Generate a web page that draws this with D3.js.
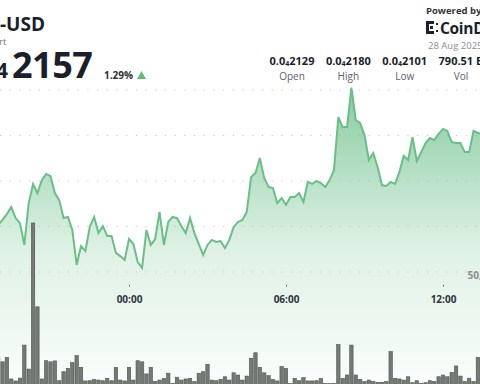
<!DOCTYPE html>
<html>
<head>
<meta charset="utf-8">
<script src="https://cdn.jsdelivr.net/npm/d3@7"></script>
<style>
  html, body { margin: 0; padding: 0; background: #fff; }
  svg { display: block; font-family: "Open Sans", "Noto Sans", sans-serif; }
</style>
</head>
<body>
<svg id="chart" width="480" height="384"></svg>
<script>
// ---- data (price in units of 0.0₄xxxx, i.e. 1e-8 USD; volume in billions) ----
const startTime = new Date(2025, 7, 27, 19, 0); // first 10-minute point
const stepMinutes = 10;
const prices = [
  2120.7, 2122.9, 2125.5, 2128.6, 2123.7, 2121.5, 2111.9, 2130.3, 2138.7, 2134.7,
  2140.4, 2143.1, 2142.2, 2134.7, 2131.6, 2123.7, 2124.2, 2118.5, 2103.1, 2111.4,
  2109.2, 2119.8, 2124.2, 2117.1, 2120.2, 2115.8, 2115.8, 2108.4, 2107.0, 2105.3,
  2114.5, 2112.3, 2104.4, 2101.8, 2118.5, 2111.9, 2114.5, 2126.4, 2111.9, 2122.0,
  2124.2, 2123.7, 2120.2, 2117.1, 2123.7, 2117.1, 2112.3, 2107.5, 2111.9, 2114.1,
  2113.2, 2113.6, 2110.5, 2114.1, 2119.8, 2122.0, 2122.9, 2126.4, 2141.8, 2143.5,
  2150.1, 2141.3, 2137.4, 2136.9, 2130.3, 2132.5, 2129.5, 2133.0, 2133.0, 2134.7,
  2130.8, 2139.6, 2138.7, 2140.0, 2139.1, 2137.4, 2140.4, 2144.8, 2168.1, 2163.7,
  2163.7, 2181.0, 2166.8, 2165.5, 2160.2, 2149.2, 2152.3, 2146.2, 2138.2, 2137.8,
  2139.6, 2138.7, 2144.0, 2151.0, 2149.2, 2159.3, 2148.8, 2152.7, 2156.7, 2158.9,
  2158.0, 2160.7, 2162.9, 2162.0, 2157.1, 2156.7, 2156.7, 2152.7, 2152.7, 2162.0,
  2161.1, 2160.7
];
const volumes = [
  12.9, 11.0, 13.0, 3.2, 2.3, 3.6, 18.6, 7.7, 74.1, 36.0,
  3.2, 11.5, 11.0, 11.4, 2.4, 6.5, 8.0, 10.6, 13.8, 8.5,
  2.3, 2.4, 2.9, 2.7, 2.4, 3.5, 2.4, 8.5, 2.7, 2.3,
  8.5, 2.7, 11.5, 11.0, 5.5, 8.5, 2.0, 2.7, 3.5, 5.8,
  1.2, 4.0, 2.7, 3.2, 3.5, 2.0, 5.8, 6.5, 9.9, 2.7,
  2.4, 3.0, 4.2, 2.7, 6.0, 5.0, 2.7, 4.5, 12.6, 15.1,
  8.5, 6.0, 4.7, 3.0, 2.3, 8.8, 8.0, 1.1, 3.5, 2.4,
  3.8, 2.3, 2.3, 2.4, 3.5, 1.2, 1.1, 1.2, 18.8, 3.5,
  5.0, 18.6, 5.0, 3.0, 2.0, 2.7, 2.0, 1.7, 1.7, 2.0,
  15.6, 3.5, 3.2, 2.7, 4.2, 1.5, 2.4, 1.2, 1.5, 2.4,
  2.0, 4.2, 5.0, 4.2, 6.2, 9.1, 4.5, 2.0, 3.5, 2.0,
  13.0, 12.1
];
const priceTicks = [2100, 2120, 2140, 2160, 2180];
const volumeTicks = [50];
const statLabels = ["Open", "High", "Low", "Vol"];
const statDigits = ["2129", "2180", "2101", null];
const volText = "790.51 B";
const title = "-USD";
const subtitle = "rt";
const lastDigits = "2157";
const changePct = "1.29%";
const poweredBy = "Powered by";
const brand = "CoinDesk";
const dateText = "28 Aug 2025";

const data = prices.map((p, i) => ({
  t: new Date(startTime.getTime() + i * stepMinutes * 60000),
  p, v: volumes[i]
}));

// ---- scales ----
const svg = d3.select("#chart");
const x = d3.scaleTime()
  .domain([new Date(2025, 7, 28, 0, 0), new Date(2025, 7, 28, 12, 0)])
  .range([129, 443]);
const y = d3.scaleLinear().domain([2100, 2180]).range([272, 90]);
const yv = d3.scaleLinear().domain([0, 50]).range([386, 276]);
const barW = 3.4;

// ---- gradient ----
const defs = svg.append("defs");
const grad = defs.append("linearGradient")
  .attr("id", "areaGrad").attr("gradientUnits", "userSpaceOnUse")
  .attr("x1", 0).attr("x2", 0).attr("y1", 85).attr("y2", 384);
grad.append("stop").attr("offset", 0).attr("stop-color", "#6cc08b").attr("stop-opacity", 0.82);
grad.append("stop").attr("offset", 0.55).attr("stop-color", "#6cc08b").attr("stop-opacity", 0.22);
grad.append("stop").attr("offset", 1).attr("stop-color", "#6cc08b").attr("stop-opacity", 0.03);

// ---- header ----
const dark = "#1b1e2b";
svg.append("text").attr("x", 0).attr("y", 31).attr("font-size", 19).attr("font-weight", 700)
  .attr("fill", dark).text(title);
svg.append("text").attr("x", -1).attr("y", 44.5).attr("font-size", 9.5)
  .attr("fill", "#6b6f78").text(subtitle);
svg.append("text").attr("x", -4).attr("y", 78).attr("font-size", 21).attr("font-weight", 700)
  .attr("fill", dark).text("4");
svg.append("text").attr("x", 12).attr("y", 78).attr("font-size", 36).attr("font-weight", 700)
  .attr("fill", dark).attr("letter-spacing", -0.5).text(lastDigits);
svg.append("text").attr("x", 104).attr("y", 78.5).attr("font-size", 10).attr("font-weight", 700)
  .attr("fill", "#2b2e38").text(changePct);
svg.append("path").attr("d", "M137,79 L146,79 L141.5,71 Z").attr("fill", "#5fbf74");

svg.append("text").attr("x", 426).attr("y", 14).attr("font-size", 9.5).attr("font-weight", 700)
  .attr("fill", "#33363d").text(poweredBy);
// logo icon
const logo = svg.append("g").attr("fill", "#1b1e2b");
logo.append("rect").attr("x", 426).attr("y", 21).attr("width", 3).attr("height", 13);
logo.append("rect").attr("x", 426).attr("y", 21).attr("width", 8).attr("height", 3);
logo.append("rect").attr("x", 426).attr("y", 31).attr("width", 8).attr("height", 3);
logo.append("rect").attr("x", 430).attr("y", 26).attr("width", 3).attr("height", 3);
logo.append("rect").attr("x", 436).attr("y", 23).attr("width", 2).attr("height", 2);
logo.append("rect").attr("x", 436).attr("y", 30).attr("width", 2).attr("height", 2);
svg.append("text").attr("x", 440).attr("y", 34).attr("font-size", 15.5).attr("font-weight", 700)
  .attr("letter-spacing", -0.3).attr("fill", "#1b1e2b").text(brand);
svg.append("text").attr("x", 428).attr("y", 49).attr("font-size", 9.5)
  .attr("fill", "#8a8d94").text(dateText);

// stats row
const statX = d3.scalePoint().domain(statLabels).range([292, 461]);
statLabels.forEach((lab, i) => {
  const cx = statX(lab);
  const t = svg.append("text").attr("x", cx).attr("y", 65).attr("text-anchor", "middle")
    .attr("font-size", 11).attr("font-weight", 700).attr("fill", dark);
  if (statDigits[i]) {
    t.append("tspan").text("0.0");
    t.append("tspan").attr("font-size", 7).attr("dy", 1).text("4");
    t.append("tspan").attr("dy", -1).text(statDigits[i]);
  } else {
    t.text(volText);
  }
  svg.append("text").attr("x", cx).attr("y", 79.5).attr("text-anchor", "middle")
    .attr("font-size", 10).attr("fill", "#5d606a").text(lab);
});

// ---- gridlines ----
svg.append("g").selectAll("line").data(priceTicks).join("line")
  .attr("x1", 0).attr("x2", 480)
  .attr("y1", d => y(d)).attr("y2", d => y(d))
  .attr("stroke", "#c9c9c9").attr("stroke-width", 1.2)
  .attr("stroke-dasharray", "1.2,8.5");

// ---- area + volume + line ----
const area = d3.area().x(d => x(d.t)).y0(384).y1(d => y(d.p));
svg.append("path").datum(data).attr("d", area).attr("fill", "url(#areaGrad)");

svg.append("g").selectAll("rect").data(data).join("rect")
  .attr("x", d => x(d.t) - barW / 2)
  .attr("width", barW)
  .attr("y", d => yv(d.v))
  .attr("height", d => yv(0) - yv(d.v))
  .attr("fill", "#747973").attr("stroke", "#4f544f").attr("stroke-width", 0.6);

const line = d3.line().x(d => x(d.t)).y(d => y(d.p));
svg.append("path").datum(data).attr("d", line)
  .attr("fill", "none").attr("stroke", "#6abf86").attr("stroke-width", 2)
  .attr("stroke-linejoin", "miter");

// volume axis label
svg.append("g").selectAll("text").data(volumeTicks).join("text")
  .attr("x", 467.5).attr("y", d => yv(d) + 3)
  .attr("font-size", 10).attr("font-weight", 700).attr("fill", "#8c8f8c")
  .text(d => d3.format(",")(d * 1e9));

// ---- x axis ----
const xAxis = d3.axisBottom(x).ticks(d3.timeHour.every(6)).tickFormat(d3.timeFormat("%H:%M"))
  .tickSize(1.5).tickPadding(9);
const gx = svg.append("g").attr("transform", "translate(0,285)").call(xAxis);
gx.select(".domain").remove();
gx.selectAll("line").attr("stroke", "#555");
gx.selectAll("text").attr("font-size", 10).attr("font-weight", 700).attr("fill", "#2f323a")
  .attr("font-family", "Open Sans, Noto Sans, sans-serif");
</script>
</body>
</html>
